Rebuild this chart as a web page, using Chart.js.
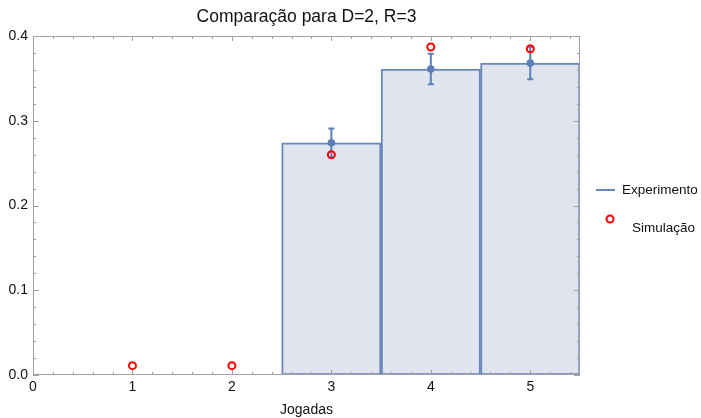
<!DOCTYPE html>
<html>
<head>
<meta charset="utf-8">
<script src="https://cdn.jsdelivr.net/npm/chart.js@4.4.1/dist/chart.umd.min.js"></script>
<style>
  html, body { margin: 0; padding: 0; background: #ffffff; }
  #wrap { width: 701px; height: 418px; }
</style>
</head>
<body>
<div id="wrap"><canvas id="comparacaoChart"></canvas></div>
<script>
// Data
const jogadas = [1, 2, 3, 4, 5];
const experimento = [0, 0, 0.274, 0.361, 0.368];
const erroExperimento = [0, 0, 0.017, 0.018, 0.019];
const simulacao = [0.011, 0.011, 0.26, 0.387, 0.385];

const xTickValues = [0, 1, 2, 3, 4, 5];
const xTickLabels = ['0', '1', '2', '3', '4', '5'];
const yTickValues = [0, 0.1, 0.2, 0.3, 0.4];
const yTickLabels = ['0.0', '0.1', '0.2', '0.3', '0.4'];

const FONT = '"Liberation Sans", Arial, sans-serif';
const edgeColor = '#6888bd';
const pointColor = '#5b7fb6';
const fillColor = '#dfe4ef';
const frameColor = '#a0a0a0';

// Error bars, drawn right after the bars so the points sit on top
const errorBarPlugin = {
  id: 'errorBars',
  afterDatasetDraw(chart, args) {
    if (args.index !== 0) return;
    const { ctx, scales: { x, y } } = chart;
    ctx.save();
    ctx.strokeStyle = pointColor;
    ctx.lineWidth = 2;
    jogadas.forEach((j, i) => {
      if (!erroExperimento[i]) return;
      const px = x.getPixelForValue(j);
      const top = y.getPixelForValue(experimento[i] + erroExperimento[i]);
      const bot = y.getPixelForValue(experimento[i] - erroExperimento[i]);
      ctx.beginPath();
      ctx.moveTo(px, top); ctx.lineTo(px, bot);
      ctx.moveTo(px - 3, top); ctx.lineTo(px + 3, top);
      ctx.moveTo(px - 3, bot); ctx.lineTo(px + 3, bot);
      ctx.stroke();
    });
    ctx.restore();
  }
};

// Mathematica-style frame with inward ticks, plus the legend on the right
const framePlugin = {
  id: 'frame',
  afterDraw(chart) {
    const { ctx, chartArea: a, scales: { x, y } } = chart;
    ctx.save();
    ctx.strokeStyle = frameColor;
    ctx.lineWidth = 1;
    ctx.strokeRect(a.left + 0.5, a.top + 0.5, a.right - a.left - 1, a.bottom - a.top - 1);

    ctx.beginPath();
    // x ticks (major + 4 minors), bottom and top
    for (let v = 0; v <= 5.5001; v += 0.2) {
      const px = Math.round(x.getPixelForValue(v)) + 0.5;
      const major = Math.abs(v - Math.round(v)) < 1e-6;
      const len = major ? 5 : 3;
      ctx.moveTo(px, a.bottom); ctx.lineTo(px, a.bottom - len);
      ctx.moveTo(px, a.top); ctx.lineTo(px, a.top + len);
    }
    // y ticks (major + 4 minors), left and right
    for (let v = 0; v <= 0.4001; v += 0.02) {
      const py = Math.round(y.getPixelForValue(v)) + 0.5;
      const major = Math.abs(v * 10 - Math.round(v * 10)) < 1e-6;
      const len = major ? 6 : 3;
      ctx.moveTo(a.left, py); ctx.lineTo(a.left + len, py);
      ctx.moveTo(a.right, py); ctx.lineTo(a.right - len, py);
    }
    ctx.stroke();

    // legend
    ctx.font = '13.5px ' + FONT;
    ctx.fillStyle = '#111111';
    ctx.textBaseline = 'middle';
    ctx.textAlign = 'left';
    ctx.strokeStyle = edgeColor;
    ctx.lineWidth = 2;
    ctx.beginPath();
    ctx.moveTo(596, 190); ctx.lineTo(615, 190);
    ctx.stroke();
    ctx.fillText('Experimento', 622, 190);

    ctx.strokeStyle = '#ff0000';
    ctx.beginPath();
    ctx.arc(610, 219, 3.5, 0, Math.PI * 2);
    ctx.stroke();
    ctx.fillText('Simulação', 632, 228);
    ctx.restore();
  }
};

const ctx = document.getElementById('comparacaoChart');

new Chart(ctx, {
  type: 'bar',
  data: {
    datasets: [
      {
        label: 'Experimento',
        data: jogadas.map((j, i) => ({ x: j, y: experimento[i] })),
        backgroundColor: fillColor,
        borderColor: edgeColor,
        borderWidth: 2,
        borderSkipped: false,
        barPercentage: 1,
        categoryPercentage: 1,
        order: 3
      },
      {
        type: 'scatter',
        label: 'Experimento (pontos)',
        data: jogadas.map((j, i) => ({ x: j, y: experimento[i] }))
          .filter((p, i) => erroExperimento[i] > 0),
        backgroundColor: pointColor,
        borderColor: pointColor,
        pointRadius: 3.8,
        borderWidth: 0,
        order: 2
      },
      {
        type: 'scatter',
        label: 'Simulação',
        data: jogadas.map((j, i) => ({ x: j, y: simulacao[i] })),
        backgroundColor: 'rgba(255,255,255,0)',
        borderColor: '#ff0000',
        pointRadius: 3.5,
        borderWidth: 2,
        order: 1
      }
    ]
  },
  plugins: [errorBarPlugin, framePlugin],
  options: {
    responsive: true,
    maintainAspectRatio: false,
    animation: false,
    layout: { padding: { left: 0, right: 121, top: 0, bottom: 0 } },
    plugins: {
      legend: { display: false },
      tooltip: { enabled: false },
      title: {
        display: true,
        text: 'Comparação para D=2, R=3',
        fullSize: false,
        color: '#111111',
        font: { family: FONT, size: 17.5, weight: 'normal' },
        padding: { top: 7, bottom: 8 }
      }
    },
    scales: {
      x: {
        type: 'linear',
        offset: false,
        min: 0,
        max: 5.5,
        grid: { display: false, drawTicks: false, offset: false },
        border: { display: false },
        afterBuildTicks: (scale) => { scale.ticks = xTickValues.map(v => ({ value: v })); },
        afterFit: (scale) => { scale.height = 43; },
        ticks: {
          padding: 4,
          color: '#111111',
          font: { family: FONT, size: 14 },
          callback: (value) => xTickLabels[xTickValues.indexOf(value)]
        },
        title: {
          display: true,
          text: 'Jogadas',
          color: '#111111',
          font: { family: FONT, size: 14 },
          padding: { top: 0, bottom: -1 }
        }
      },
      y: {
        min: 0,
        max: 0.4,
        grid: { display: false, drawTicks: false },
        border: { display: false },
        afterBuildTicks: (scale) => { scale.ticks = yTickValues.map(v => ({ value: v })); },
        afterFit: (scale) => { scale.width = 33; },
        ticks: {
          padding: 5,
          color: '#111111',
          font: { family: FONT, size: 14 },
          callback: (value) => yTickLabels[yTickValues.indexOf(value)]
        }
      }
    }
  }
});
</script>
</body>
</html>
